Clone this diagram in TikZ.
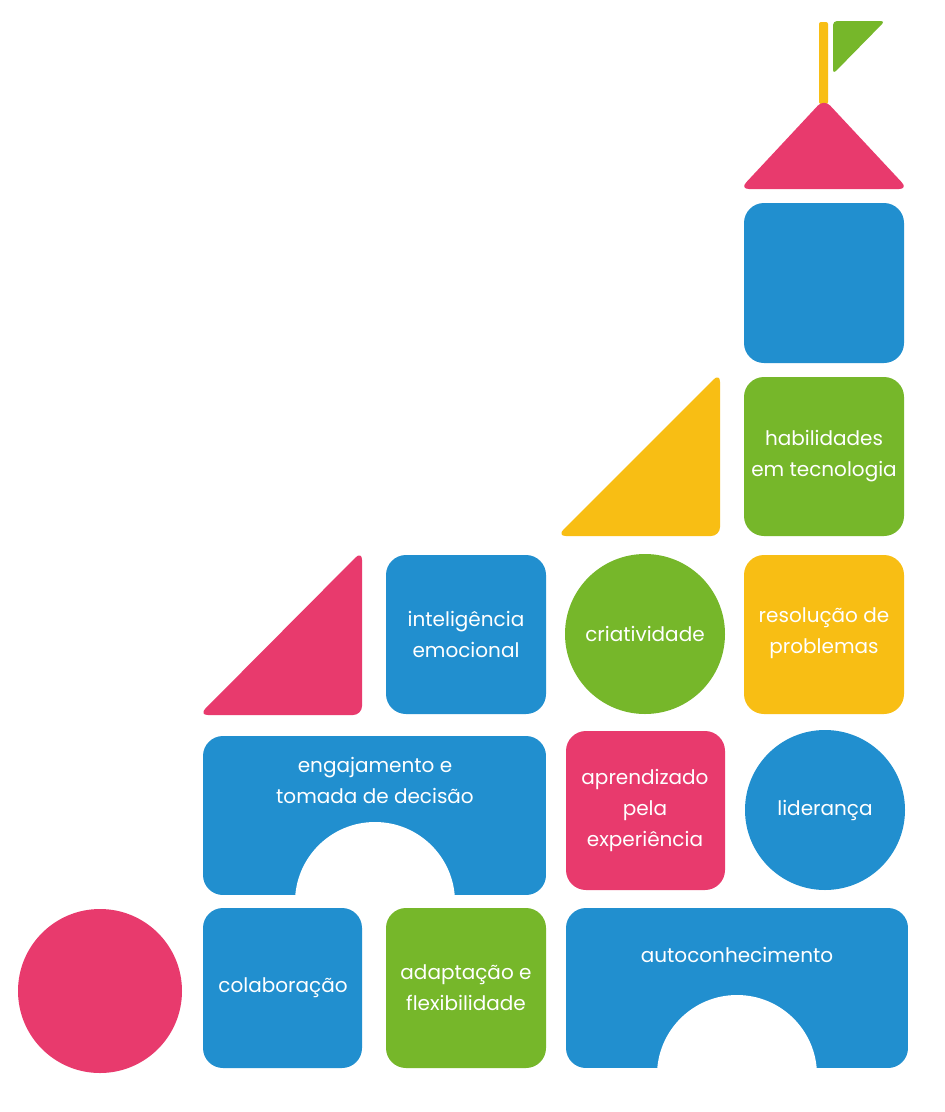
\documentclass[tikz,border=0pt]{standalone}
\usepackage{fontspec}
\setmainfont{Poppins}
\definecolor{cblue}{HTML}{218FCF}
\definecolor{cpink}{HTML}{E83A6D}
\definecolor{cgreen}{HTML}{76B72A}
\definecolor{cyellow}{HTML}{F8BE14}
\begin{document}
\begin{tikzpicture}[x=1pt,y=-1pt,
  blk/.style={rounded corners=20pt},
  tri/.style={rounded corners=9pt},
  lbl/.style={text=white,align=center,font=\fontsize{20}{31}\selectfont,inner sep=0pt}]
\useasboundingbox[fill=white] (0,0) rectangle (945,1112);
% flag
\fill[cyellow, rounded corners=2pt] (819,22) rectangle (828,104);
\fill[cgreen, rounded corners=4pt] (833,21) -- (885,21) -- (833,74) -- cycle;
% roof
\fill[cpink, tri] (740,189) -- (908,189) -- (824,99) -- cycle;
% top blue block
\fill[cblue, blk] (744,203) rectangle (904,363);
% row 4
\fill[cyellow, tri] (557,536) -- (720,536) -- (720,373) -- cycle;
\fill[cgreen, blk] (744,377) rectangle (904,536);
\node[lbl] (tec) at (824,456) {habilidades\\em tecnologia};
% row 3
\fill[cpink, tri] (199,715) -- (362,715) -- (362,551) -- cycle;
\fill[cblue, blk] (386,555) rectangle (546,714);
\node[lbl] (emo) at (466,634) {inteligência\\emocional};
\fill[cgreen] (645,634) circle (80);
\node[lbl] (cri) at (645,634) {criatividade};
\fill[cyellow, blk] (744,555) rectangle (904,714);
\node[lbl] (res) at (824,633) {resolução de\\problemas};
% row 2
\begin{scope}
  \clip[blk] (203,736) rectangle (546,895);
  \fill[cblue] (203,736) rectangle (546,895);
  \fill[white] (375,902) circle (80);
\end{scope}
\node[lbl] (eng) at (375,780) {engajamento e\\tomada de decisão};
\fill[cpink, blk] (566,731) rectangle (725,890);
\node[lbl] (apr) at (645,810) {aprendizado\\pela\\experiência};
\fill[cblue] (825,810) circle (80);
\node[lbl] (lid) at (825,810) {liderança};
% row 1
\fill[cpink] (100,991) circle (82);
\fill[cblue, blk] (203,908) rectangle (362,1068);
\node[lbl] (col) at (283,988) {colaboração};
\fill[cgreen, blk] (386,908) rectangle (546,1068);
\node[lbl] (ada) at (466,988) {adaptação e\\flexibilidade};
\begin{scope}
  \clip[blk] (566,908) rectangle (908,1068);
  \fill[cblue] (566,908) rectangle (908,1068);
  \fill[white] (737,1075) circle (80);
\end{scope}
\node[lbl] (aut) at (737,955) {autoconhecimento};
\end{tikzpicture}
\end{document}
